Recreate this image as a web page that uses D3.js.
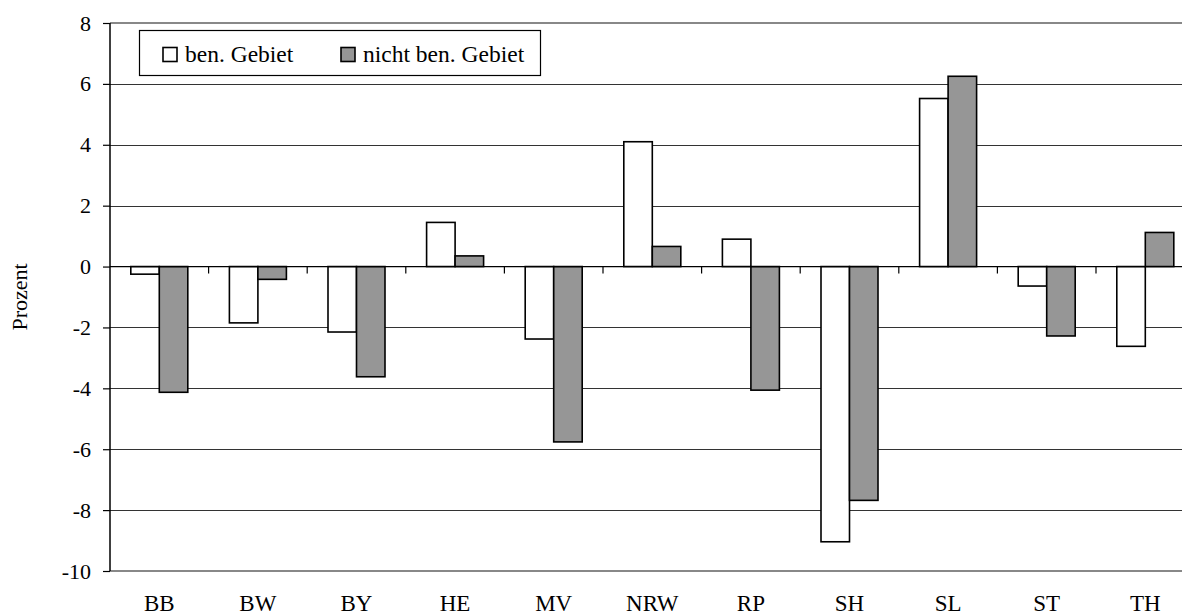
<!DOCTYPE html>
<html lang="de">
<head>
<meta charset="utf-8">
<title>Prozent</title>
<script src="https://cdn.jsdelivr.net/npm/d3@7"></script>
<style>
  body { margin: 0; background: #fff; overflow: hidden; }
  text { font-family: "Liberation Serif", "Times New Roman", serif; fill: #000; }
</style>
</head>
<body>
<script>
// data
var categories = ["BB", "BW", "BY", "HE", "MV", "NRW", "RP", "SH", "SL", "ST", "TH"];
var seriesNames = ["ben. Gebiet", "nicht ben. Gebiet"];
var benGebiet = [-0.25, -1.85, -2.15, 1.45, -2.38, 4.1, 0.9, -9.04, 5.52, -0.64, -2.62];
var nichtBenGebiet = [-4.13, -0.42, -3.62, 0.35, -5.76, 0.66, -4.06, -7.68, 6.25, -2.28, 1.12];
var yTicks = [8, 6, 4, 2, 0, -2, -4, -6, -8, -10];
var seriesFill = ["#ffffff", "#969696"];

var width = 1182, height = 616;
// note: "top" is taken by window.top, so use other names
var plotLeft = 110, plotTop = 23, plotRight = 1194.6, plotBottom = 571;

var svg = d3.select("body").append("svg")
  .attr("width", width)
  .attr("height", height);

var x = d3.scaleBand().domain(categories).range([plotLeft, plotRight]);
var y = d3.scaleLinear().domain([-10, 8]).range([plotBottom, plotTop]);
var barW = 28.5;

// gridlines
svg.append("g").selectAll("line")
  .data(yTicks.filter(function(d) { return d !== 8 && d !== -10 && d !== 0; }))
  .enter().append("line")
  .attr("x1", plotLeft).attr("x2", plotRight)
  .attr("y1", function(d) { return Math.round(y(d)) + 0.5; })
  .attr("y2", function(d) { return Math.round(y(d)) + 0.5; })
  .attr("stroke", "#333").attr("stroke-width", 1);

// plot area top / bottom border
[8, -10].forEach(function(v) {
  svg.append("line")
    .attr("x1", plotLeft).attr("x2", plotRight)
    .attr("y1", Math.round(y(v))).attr("y2", Math.round(y(v)))
    .attr("stroke", "#888").attr("stroke-width", 2);
});

// bars
var rows = categories.map(function(c, i) {
  return { cat: c, vals: [benGebiet[i], nichtBenGebiet[i]] };
});
var groups = svg.append("g").selectAll("g")
  .data(rows).enter().append("g");

groups.selectAll("rect")
  .data(function(d) { return d.vals.map(function(v, k) { return { cat: d.cat, v: v, k: k }; }); })
  .enter().append("rect")
  .attr("x", function(d) { return x(d.cat) + x.bandwidth() / 2 - barW + d.k * barW; })
  .attr("width", barW)
  .attr("y", function(d) { return y(Math.max(0, d.v)); })
  .attr("height", function(d) { return Math.abs(y(d.v) - y(0)); })
  .attr("fill", function(d) { return seriesFill[d.k]; })
  .attr("stroke", "#000").attr("stroke-width", 1.6);

// zero axis with category ticks
var xAxis = svg.append("g")
  .attr("transform", "translate(0," + y(0) + ")");
xAxis.append("line")
  .attr("x1", plotLeft).attr("x2", plotRight).attr("y1", 0).attr("y2", 0)
  .attr("stroke", "#000").attr("stroke-width", 1.2);
xAxis.selectAll(".bound")
  .data(categories.slice(1)).enter().append("line")
  .attr("class", "bound")
  .attr("x1", function(d) { return x(d); }).attr("x2", function(d) { return x(d); })
  .attr("y1", 0).attr("y2", 7)
  .attr("stroke", "#000").attr("stroke-width", 1.2);

// category labels along the bottom
svg.append("g").selectAll("text")
  .data(categories).enter().append("text")
  .attr("x", function(d) { return x(d) + x.bandwidth() / 2; })
  .attr("y", 611)
  .attr("text-anchor", "middle")
  .attr("font-size", 23)
  .text(function(d) { return d; });

// y axis
var yAxis = svg.append("g")
  .attr("transform", "translate(" + plotLeft + ",0)")
  .call(d3.axisLeft(y).tickValues(yTicks).tickSize(7).tickPadding(12));
yAxis.select(".domain").attr("stroke", "#000").attr("stroke-width", 1.5)
  .attr("d", "M0," + plotTop + "V" + plotBottom);
yAxis.selectAll(".tick line").attr("stroke", "#000").attr("stroke-width", 1.2);
yAxis.selectAll(".tick text")
  .attr("font-size", 22)
  .attr("font-family", "Liberation Serif, Times New Roman, serif")
  .attr("fill", "#000")
  .text(function(d) { return d < 0 ? "-" + Math.abs(d) : d; });

svg.append("text")
  .attr("transform", "translate(27," + ((plotTop + plotBottom) / 2) + ") rotate(-90)")
  .attr("text-anchor", "middle")
  .attr("font-size", 22)
  .text("Prozent");

// legend
var lg = svg.append("g");
lg.append("rect")
  .attr("x", 139.5).attr("y", 30.5).attr("width", 401).attr("height", 45)
  .attr("fill", "#fff").attr("stroke", "#000").attr("stroke-width", 1.2);
var legendX = [163, 341];
seriesNames.forEach(function(name, k) {
  lg.append("rect")
    .attr("x", legendX[k]).attr("y", 47.5).attr("width", 14).attr("height", 14)
    .attr("fill", seriesFill[k]).attr("stroke", "#000").attr("stroke-width", 1.6);
  lg.append("text")
    .attr("x", legendX[k] + 22).attr("y", 62)
    .attr("font-size", 23.5)
    .text(name);
});
</script>
</body>
</html>
